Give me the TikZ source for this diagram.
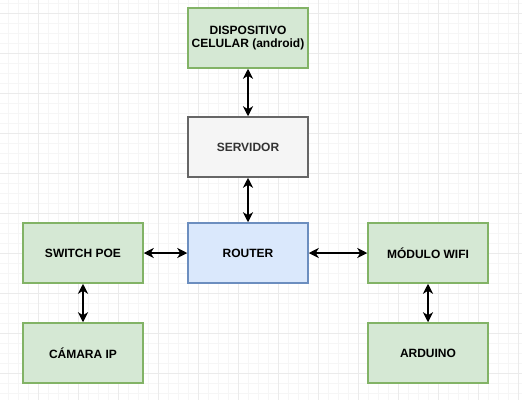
\documentclass[tikz,border=0pt]{standalone}
\usepackage{fontspec}
\setmainfont{Liberation Sans}
\usetikzlibrary{arrows.meta}
\definecolor{gfill}{HTML}{D5E8D4}
\definecolor{gline}{HTML}{82B366}
\definecolor{bfill}{HTML}{DAE8FC}
\definecolor{bline}{HTML}{6C8EBF}
\definecolor{sfill}{HTML}{F5F5F5}
\definecolor{sline}{HTML}{666666}
\definecolor{stext}{HTML}{333333}
\definecolor{gridminor}{HTML}{F6F6F6}
\definecolor{gridmajor}{HTML}{EBEBEB}
\begin{document}
\begin{tikzpicture}[x=1pt,y=-1pt,
  box/.style={draw, line width=1.5pt, minimum width=120pt, minimum height=60pt, inner sep=0pt, align=center, font=\fontsize{12}{13.5}\selectfont\bfseries},
  green/.style={box, fill=gfill, draw=gline},
  blue/.style={box, fill=bfill, draw=bline},
  grey/.style={box, fill=sfill, draw=sline, text=stext},
  link/.style={line width=2pt, {Stealth[length=10pt,width=10pt,inset=3pt]}-{Stealth[length=10pt,width=10pt,inset=3pt]}}
]
\useasboundingbox (0,0) rectangle (522,400);
\fill[white] (0,0) rectangle (522,400);
\foreach \x in {8,18,...,518} \draw[gridminor, line width=0.7pt] (\x,0) -- (\x,400);
\foreach \y in {3,13,...,393} \draw[gridminor, line width=0.7pt] (0,\y) -- (522,\y);
\foreach \x in {38,78,...,518} \draw[gridmajor, line width=0.7pt] (\x,0) -- (\x,400);
\foreach \y in {13,53,...,393} \draw[gridmajor, line width=0.7pt] (0,\y) -- (522,\y);

\node[green] (disp) at (248,38) {DISPOSITIVO\\CELULAR (android)};
\node[grey] (serv) at (248,147) {SERVIDOR};
\node[blue] (router) at (248,253) {ROUTER};
\node[green] (switch) at (83,253) {SWITCH POE};
\node[green] (cam) at (83,353) {CÁMARA IP};
\node[green] (wifi) at (428,253) {MÓDULO WIFI};
\node[green] (ard) at (428,353) {ARDUINO};

\draw[link] (disp) -- (serv);
\draw[link] (serv) -- (router);
\draw[link] (switch) -- (router);
\draw[link] (router) -- (wifi);
\draw[link] (switch) -- (cam);
\draw[link] (wifi) -- (ard);
\end{tikzpicture}
\end{document}
